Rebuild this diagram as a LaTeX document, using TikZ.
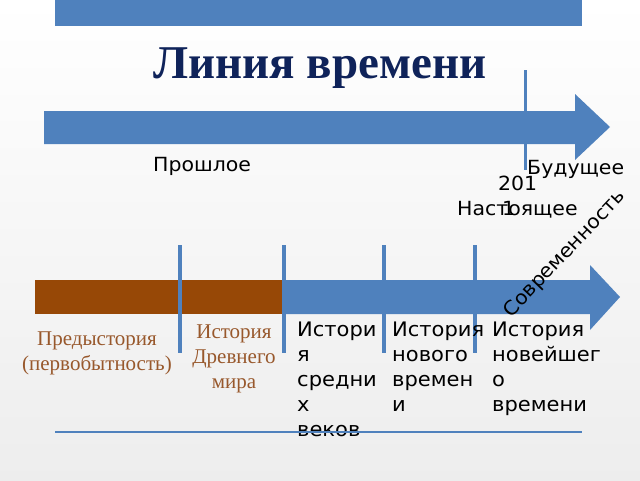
\documentclass[tikz,border=0pt]{standalone}
\usepackage{fontspec}
\setmainfont{Liberation Serif}[BoldFont={Liberation Serif Bold}, ItalicFont={Liberation Serif Italic}]
\newfontfamily\sansfont{DejaVu Sans}[FakeStretch=1.05]
\usetikzlibrary{positioning}
\definecolor{barblue}{RGB}{79,129,189}
\definecolor{barbrown}{RGB}{151,72,6}
\definecolor{textbrown}{RGB}{152,88,44}
\definecolor{titlenavy}{RGB}{15,35,90}
\tikzset{
  tick/.style={draw=barblue, line width=4pt},
  pastlabel/.style={text=textbrown, font=\fontsize{21}{25}\selectfont,
                    align=center, inner sep=0pt},
  eralabel/.style={font=\sansfont\fontsize{20}{25}\selectfont,
                   align=left, anchor=north west, inner sep=0pt},
  marklabel/.style={font=\sansfont\fontsize{19.5}{24}\selectfont, inner sep=0pt},
}

\begin{document}
\begin{tikzpicture}[x=1pt, y=-1pt]
    % background
    \shade[top color=white, bottom color=gray!14] (0,0) rectangle (640,480);
    \useasboundingbox (0,0) rectangle (640,480);

    % Top bar and title
    \fill[barblue] (55,0) rectangle (582,26);
    \node[font=\bfseries\fontsize{47}{52}\selectfont, text=titlenavy, inner sep=0pt,
      anchor=base] (title) at (320,78) {Линия времени};

    % Upper arrow: past -> future
    \fill[barblue] (44,111) -- (575,111) -- (575,94) -- (610,127)
      -- (575,160) -- (575,144) -- (44,144) -- cycle;
    \draw[draw=barblue, line width=3pt] (525,70) -- (525,170);
    \node[marklabel, anchor=base west] (past)    at (153,171) {Прошлое};
    \node[marklabel, anchor=base west] (future)  at (527,174) {Будущее};
    \node[marklabel, anchor=base west] (year)    at (498,190) {201};
    \node[marklabel, anchor=base west] (present) at (457,215) {Настоящее};
    \node[marklabel, anchor=base west] (yearend) at (502,215) {1};

    % Lower arrow: brown prehistory + ancient, blue rest
    \fill[barblue] (283,280) -- (590,280) -- (590,265) -- (620,297)
      -- (590,330) -- (590,314) -- (283,314) -- cycle;
    \fill[barbrown] (35,280) rectangle (283,314);

    % Era boundaries
    \foreach \xx in {180,284,384,475}
      \draw[tick] (\xx,245) -- (\xx,353);

    % rotated label lies over the arrow head
    \node[marklabel, rotate=46.5] (modern) at (565,254) {Современность};

    % Era labels
    \node[pastlabel] (prehist) at (97,353) {Предыстория\\(первобытность)};
    \node[pastlabel] (ancient) at (234,359) {История\\Древнего\\мира};
    \node[eralabel] (middle) at (297,322) {Истори\\я\\средни\\х\\веков};
    \node[eralabel] (newtime) at (392,322) {История\\нового\\времен\\и};
    \node[eralabel] (newest)  at (492,322) {История\\новейшег\\о\\времени};

    % Bottom rule
    \draw[barblue, line width=1.5pt] (55,432) -- (582,432);
\end{tikzpicture}
\end{document}
